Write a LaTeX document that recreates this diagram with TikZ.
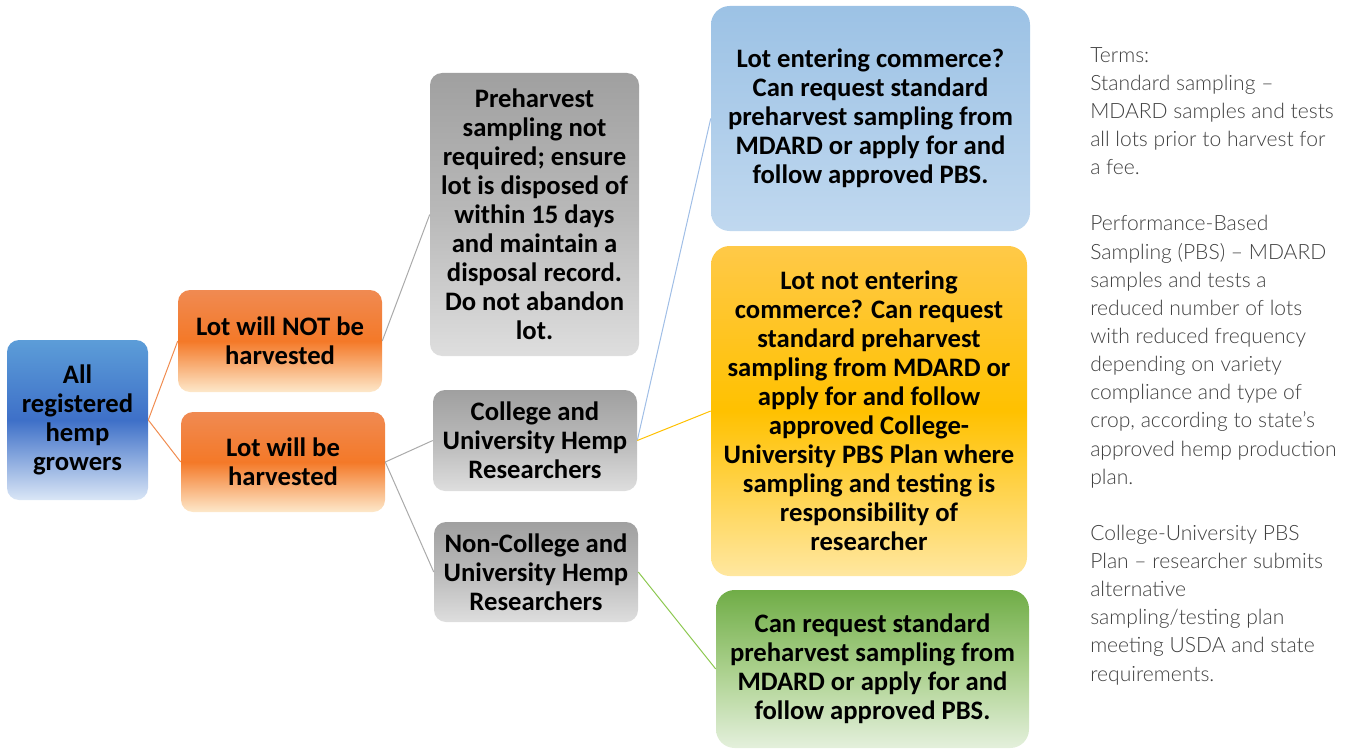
\documentclass[tikz,border=0pt]{standalone}
\usepackage{fontspec}
\setmainfont{Carlito}
\newfontfamily\termsfont{Lato Light}
\definecolor{rootTop}{RGB}{92,157,216}
\definecolor{rootMid}{RGB}{62,112,200}
\definecolor{rootBot}{RGB}{218,230,246}
\definecolor{orTop}{RGB}{240,138,82}
\definecolor{orMid}{RGB}{244,121,40}
\definecolor{orBot}{RGB}{253,232,202}
\definecolor{gyTop}{RGB}{160,160,160}
\definecolor{gyMid}{RGB}{185,185,185}
\definecolor{gyBot}{RGB}{222,222,222}
\definecolor{ltTop}{RGB}{156,194,229}
\definecolor{ltBot}{RGB}{192,216,239}
\definecolor{ylTop}{RGB}{255,201,72}
\definecolor{ylMid}{RGB}{255,193,0}
\definecolor{ylBot}{RGB}{255,231,160}
\definecolor{gnTop}{RGB}{112,173,71}
\definecolor{gnMid}{RGB}{170,208,140}
\definecolor{gnBot}{RGB}{228,240,220}
\definecolor{lnOrange}{RGB}{240,140,80}
\definecolor{lnGray}{RGB}{170,170,170}
\definecolor{lnBlue}{RGB}{160,190,230}
\definecolor{lnYellow}{RGB}{255,192,0}
\definecolor{lnGreen}{RGB}{140,200,80}
\definecolor{termsGray}{RGB}{64,64,64}
\tikzset{
  box/.style={rectangle, rounded corners=9pt, inner sep=0pt, align=center,
    font=\bfseries\fontsize{20}{21.75}\selectfont, text=black},
  bigbox/.style={box, rounded corners=14pt},
  link/.style={line width=0.75pt},
  terms/.style={inner sep=0pt, align=left, text=termsGray,
    font=\termsfont\fontsize{15.8}{21.1}\selectfont},
}
\begin{document}
\begin{tikzpicture}[x=0.75pt,y=-0.75pt]
\useasboundingbox (0,0) rectangle (1346,749);

% first level (sizes in px, 1px = 0.75pt)
\node[box, minimum width=105.75pt, minimum height=120pt,
  top color=rootTop, bottom color=rootBot, middle color=rootMid]
  (root) at (77.5,420) {All\\registered\\hemp\\growers};

% second level
\node[box, minimum width=153pt, minimum height=76.5pt,
  top color=orTop, bottom color=orBot, middle color=orMid]
  (notharv) at (280,341) {Lot will NOT be\\harvested};
\node[box, minimum width=153pt, minimum height=75pt,
  top color=orTop, bottom color=orBot, middle color=orMid]
  (harv) at (283,462) {Lot will be\\harvested};

% third level
\node[box, minimum width=156.75pt, minimum height=212.25pt,
  top color=gyTop, bottom color=gyBot, middle color=gyMid]
  (dispose) at (534.5,214.5) {Preharvest\\sampling not\\required; ensure\\lot is disposed of\\within 15 days\\and maintain a\\disposal record.\\Do not abandon\\lot.};
\node[box, minimum width=153pt, minimum height=75.75pt,
  top color=gyTop, bottom color=gyBot, middle color=gyMid]
  (college) at (535,440.5) {College and\\University Hemp\\Researchers};
\node[box, minimum width=153pt, minimum height=75pt,
  top color=gyTop, bottom color=gyBot, middle color=gyMid]
  (noncollege) at (536,572) {Non-College and\\University Hemp\\Researchers};

% fourth level
\node[bigbox, minimum width=239.25pt, minimum height=168.75pt,
  top color=ltTop, bottom color=ltBot]
  (commerce) at (870.5,118.5) {Lot entering commerce?\\Can request standard\\preharvest sampling from\\MDARD or apply for and\\follow approved PBS.};
\node[bigbox, minimum width=237pt, minimum height=247.5pt,
  top color=ylTop, bottom color=ylBot, middle color=ylMid]
  (nocommerce) at (869,411) {Lot not entering\\commerce? Can request\\standard preharvest\\sampling from MDARD or\\apply for and follow\\approved College-\\University PBS Plan where\\sampling and testing is\\responsibility of\\researcher};
\node[bigbox, minimum width=234.75pt, minimum height=118.5pt,
  top color=gnTop, bottom color=gnBot, middle color=gnMid]
  (standard) at (872.5,669) {Can request standard\\preharvest sampling from\\MDARD or apply for and\\follow approved PBS.};

% connectors
\draw[link, lnOrange] (root.east) -- (notharv.west);
\draw[link, lnOrange] (root.east) -- (harv.west);
\draw[link, lnGray] (notharv.east) -- (dispose.west);
\draw[link, lnGray] (harv.east) -- (college.west);
\draw[link, lnGray] (harv.east) -- (noncollege.west);
\draw[link, lnBlue] (college.east) -- (commerce.west);
\draw[link, lnYellow] (college.east) -- (nocommerce.west);
\draw[link, lnGreen] (noncollege.east) -- (standard.west);

% glossary
\node[terms, anchor=west] (glossary) at (1090,366) {Terms:\\
Standard sampling –\\
MDARD samples and tests\\
all lots prior to harvest for\\
a fee.\\[21.1pt]
Performance-Based\\
Sampling (PBS) – MDARD\\
samples and tests a\\
reduced number of lots\\
with reduced frequency\\
depending on variety\\
compliance and type of\\
crop, according to state’s\\
approved hemp production\\
plan.\\[21.1pt]
College-University PBS\\
Plan – researcher submits\\
alternative\\
sampling/testing plan\\
meeting USDA and state\\
requirements.};
\end{tikzpicture}
\end{document}
